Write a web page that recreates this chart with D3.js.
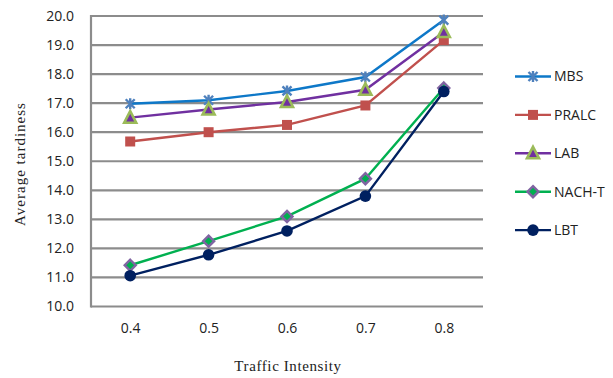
<!DOCTYPE html>
<html>
<head>
<meta charset="utf-8">
<script src="https://cdn.jsdelivr.net/npm/d3@7"></script>
<style>
  html, body { margin: 0; padding: 0; background: #fff; }
  svg { display: block; }
</style>
</head>
<body>
<svg id="chart" width="613" height="378"></svg>
<script>
// Traffic intensity levels on the x axis
const categories = ["0.4", "0.5", "0.6", "0.7", "0.8"];
const yTicks = [10, 11, 12, 13, 14, 15, 16, 17, 18, 19, 20];

// Average tardiness per scheduling method
const mbs   = [16.98, 17.10, 17.42, 17.90, 19.86];
const pralc = [15.68, 16.00, 16.25, 16.92, 19.17];
const lab   = [16.50, 16.78, 17.04, 17.46, 19.45];
const nacht = [11.42, 12.25, 13.10, 14.40, 17.52];
const lbt   = [11.06, 11.78, 12.60, 13.80, 17.40];

const seriesNames = ["MBS", "PRALC", "LAB", "NACH-T", "LBT"];
const seriesValues = [mbs, pralc, lab, nacht, lbt];

const styles = {
  "MBS":    { line: "#0E78C8", marker: "star",     fill: "#4F81BD", stroke: "#4F81BD" },
  "PRALC":  { line: "#C0504D", marker: "square",   fill: "#C0504D", stroke: "#C0504D" },
  "LAB":    { line: "#7030A0", marker: "triangle", fill: "#7030A0", stroke: "#9BBB59" },
  "NACH-T": { line: "#00B050", marker: "diamond",  fill: "#00B050", stroke: "#8064A2" },
  "LBT":    { line: "#002060", marker: "circle",   fill: "#002060", stroke: "#002060" }
};

const svg = d3.select("#chart");
const plot = { left: 91, right: 483, top: 16, bottom: 306.5 };

const x = d3.scalePoint().domain(categories).range([plot.left, plot.right]).padding(0.5);
const y = d3.scaleLinear().domain([10, 20]).range([plot.bottom, plot.top]);

// Horizontal gridlines
svg.append("g").selectAll("line").data(yTicks).join("line")
  .attr("x1", plot.left).attr("x2", plot.right)
  .attr("y1", d => y(d)).attr("y2", d => y(d))
  .attr("stroke", "#8c8c8c").attr("stroke-width", 2.2);

// Left axis line
svg.append("line")
  .attr("x1", plot.left).attr("x2", plot.left)
  .attr("y1", plot.top - 1).attr("y2", plot.bottom + 1)
  .attr("stroke", "#8c8c8c").attr("stroke-width", 2.2);

// Y axis labels
const yAxis = d3.axisLeft(y).tickValues(yTicks).tickFormat(d3.format(".1f")).tickSize(0).tickPadding(17);
const gy = svg.append("g").attr("transform", `translate(${plot.left},0)`).call(yAxis);
gy.select(".domain").remove();
gy.selectAll("text").attr("font-family", "'Open Sans', sans-serif").attr("font-size", 14).attr("fill", "#222");

// X axis labels
const xAxis = d3.axisBottom(x).tickSize(0).tickPadding(17);
const gx = svg.append("g").attr("transform", `translate(0,${plot.bottom})`).call(xAxis);
gx.select(".domain").remove();
gx.selectAll("text").attr("font-family", "'Open Sans', sans-serif").attr("font-size", 14).attr("fill", "#222");

// Axis titles
svg.append("text")
  .attr("x", 288).attr("y", 371).attr("text-anchor", "middle")
  .attr("font-family", "'Liberation Serif', serif").attr("font-size", 15)
  .attr("letter-spacing", 0.6).attr("fill", "#222")
  .text("Traffic Intensity");
svg.append("text")
  .attr("transform", "translate(25,164) rotate(-90)").attr("text-anchor", "middle")
  .attr("font-family", "'Liberation Serif', serif").attr("font-size", 15)
  .attr("letter-spacing", 1).attr("fill", "#222")
  .text("Average tardiness");

function drawMarker(g, kind, st) {
  if (kind === "star") {
    const s = 4.5;
    g.append("path")
      .attr("d", `M${-s},${-s}L${s},${s}M${-s},${s}L${s},${-s}M0,${-s - 1}L0,${s + 1}`)
      .attr("stroke", st.fill).attr("stroke-width", 2.4).attr("fill", "none");
  } else if (kind === "square") {
    g.append("rect").attr("x", -5).attr("y", -5).attr("width", 10).attr("height", 10)
      .attr("fill", st.fill);
  } else if (kind === "triangle") {
    g.append("path").attr("d", "M0,-6.5L6,5L-6,5Z")
      .attr("fill", st.fill).attr("stroke", st.stroke).attr("stroke-width", 2.6)
      .attr("stroke-linejoin", "miter");
  } else if (kind === "diamond") {
    g.append("path").attr("d", "M0,-5.5L5.5,0L0,5.5L-5.5,0Z")
      .attr("fill", st.fill).attr("stroke", st.stroke).attr("stroke-width", 2.4);
  } else if (kind === "circle") {
    g.append("circle").attr("r", 5.8).attr("fill", st.fill);
  }
}

const line = d3.line().x((d, i) => x(categories[i])).y(d => y(d));

seriesNames.forEach((name, si) => {
  const vals = seriesValues[si];
  const st = styles[name];
  svg.append("path").datum(vals)
    .attr("d", line).attr("fill", "none")
    .attr("stroke", st.line).attr("stroke-width", 2.4);
  vals.forEach((v, i) => {
    const g = svg.append("g").attr("transform", `translate(${x(categories[i])},${y(v)})`);
    drawMarker(g, st.marker, st);
  });
});

// Legend
const legend = svg.append("g");
seriesNames.forEach((name, i) => {
  const st = styles[name];
  const ly = 76.5 + i * 38.4;
  const g = legend.append("g").attr("transform", `translate(0,${ly})`);
  g.append("line").attr("x1", 515).attr("x2", 551).attr("y1", 0).attr("y2", 0)
    .attr("stroke", st.line).attr("stroke-width", 2.4);
  const m = g.append("g").attr("transform", "translate(533,0)");
  drawMarker(m, st.marker, st);
  g.append("text").attr("x", 554).attr("y", 0).attr("dy", "0.35em")
    .attr("font-family", "'Open Sans', sans-serif").attr("font-size", 14).attr("fill", "#222")
    .text(name);
});
</script>
</body>
</html>
